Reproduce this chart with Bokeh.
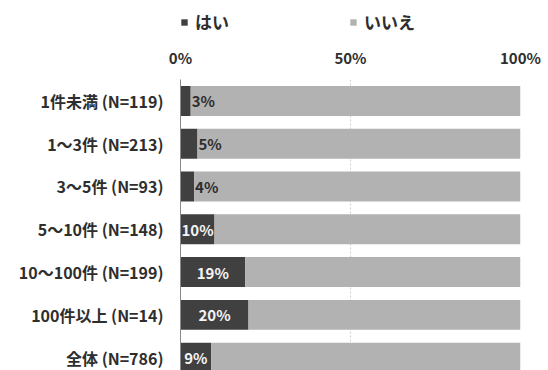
from bokeh.plotting import figure
from bokeh.layouts import column
from bokeh.models import (Range1d, FixedTicker, LinearAxis, Legend, LegendItem,
                          ColumnDataSource, Grid)
from bokeh.embed import file_html
from bokeh.resources import INLINE

# Share of respondents answering "yes" / "no" by number of cases
categories = ["1件未満 (N=119)", "1～3件 (N=213)", "3～5件 (N=93)",
              "5～10件 (N=148)", "10～100件 (N=199)", "100件以上 (N=14)",
              "全体 (N=786)"]
yes_pct = [3, 5, 4, 10, 19, 20, 9]
no_pct = [100 - v for v in yes_pct]
x_ticks = [0, 50, 100]
x_tick_labels = ["0%", "50%", "100%"]
series_names = ["はい", "いいえ"]

FONT = "Noto Sans CJK JP"
DARK = "#404040"
LIGHT = "#b2b2b2"
TEXT = "#2e2e2e"

idx = list(range(len(categories)))
src = ColumnDataSource(dict(y=idx, yes=yes_pct, no=no_pct,
                            end=[100] * len(idx)))

# ---- main stacked bar chart ----
p = figure(width=548, height=328, output_backend="svg", toolbar_location=None,
           x_range=Range1d(0, 100), y_range=Range1d(6.30, -0.5),
           x_axis_location=None, y_axis_location=None,
           min_border_left=180, min_border_right=28,
           min_border_top=37, min_border_bottom=0)
p.outline_line_color = None
p.background_fill_color = "white"
p.border_fill_color = "white"

p.hbar(y="y", left=0, right="yes", height=0.7, source=src,
       fill_color=DARK, line_color=None)
p.hbar(y="y", left="yes", right="end", height=0.7, source=src,
       fill_color=LIGHT, line_color=None)

# value labels: centred inside wide bars, just outside narrow ones
lab_x, lab_align, lab_color, lab_text = [], [], [], []
for v in yes_pct:
    lab_text.append(f"{v}%")
    if v >= 9:
        lab_x.append(v / 2)
        lab_align.append("center")
        lab_color.append("#f4f4f4")
    else:
        lab_x.append(v + 0.3)
        lab_align.append("left")
        lab_color.append(TEXT)
lsrc = ColumnDataSource(dict(x=lab_x, y=idx, t=lab_text, a=lab_align,
                             c=lab_color))
p.text(x="x", y="y", text="t", source=lsrc, text_align="a",
       text_baseline="middle", text_color="c", text_font_size="15px",
       text_font_style="bold", text_font={"value": FONT})

# top percentage axis
xa = LinearAxis(ticker=FixedTicker(ticks=x_ticks),
                major_label_overrides=dict(zip(x_ticks, x_tick_labels)))
xa.axis_line_color = None
xa.major_tick_line_color = None
xa.minor_tick_line_color = None
xa.major_label_text_font = FONT
xa.major_label_text_font_style = "bold"
xa.major_label_text_font_size = "15px"
xa.major_label_text_color = TEXT
xa.major_label_standoff = 6
p.add_layout(xa, "above")

# category axis on the left
ya = LinearAxis(ticker=FixedTicker(ticks=idx),
                major_label_overrides=dict(zip(idx, categories)))
ya.axis_line_color = "#8a8a8a"
ya.major_tick_line_color = None
ya.minor_tick_line_color = None
ya.major_label_text_font = FONT
ya.major_label_text_font_style = "bold"
ya.major_label_text_font_size = "16px"
ya.major_label_text_color = TEXT
ya.major_label_standoff = 11
p.add_layout(ya, "left")

p.xgrid.grid_line_color = None
p.ygrid.grid_line_color = None
p.add_layout(Grid(dimension=0, ticker=xa.ticker, grid_line_color="#cfcfcf",
                  grid_line_dash="2 2"))

# ---- legend strip above the chart (frame aligned with the chart) ----
lg = figure(width=548, height=42, output_backend="svg", toolbar_location=None,
            x_range=Range1d(0, 1), y_range=Range1d(0, 1),
            x_axis_location=None, y_axis_location=None,
            min_border=0)
lg.outline_line_color = None
lg.xgrid.grid_line_color = None
lg.ygrid.grid_line_color = None
k_yes = lg.hbar(y="y", left=0, right="yes", height=0.7, source=src,
                fill_color=DARK, line_color=None, visible=False)
k_no = lg.hbar(y="y", left="yes", right="end", height=0.7, source=src,
               fill_color=LIGHT, line_color=None, visible=False)

legend = Legend(items=[LegendItem(label=series_names[0], renderers=[k_yes]),
                       LegendItem(label=series_names[1], renderers=[k_no])],
                orientation="horizontal", location=(0, 8))
legend.glyph_width = 8
legend.glyph_height = 8
legend.label_standoff = 7
legend.label_width = 150
legend.spacing = 4
legend.padding = 0
legend.margin = 0
legend.border_line_color = None
legend.background_fill_alpha = 0
legend.inactive_fill_alpha = 0
legend.label_text_font = FONT
legend.label_text_font_style = "bold"
legend.label_text_font_size = "17px"
legend.label_text_color = TEXT
lg.add_layout(legend, "center")

open("out.html", "w").write(file_html(column(lg, p, spacing=0), INLINE))
